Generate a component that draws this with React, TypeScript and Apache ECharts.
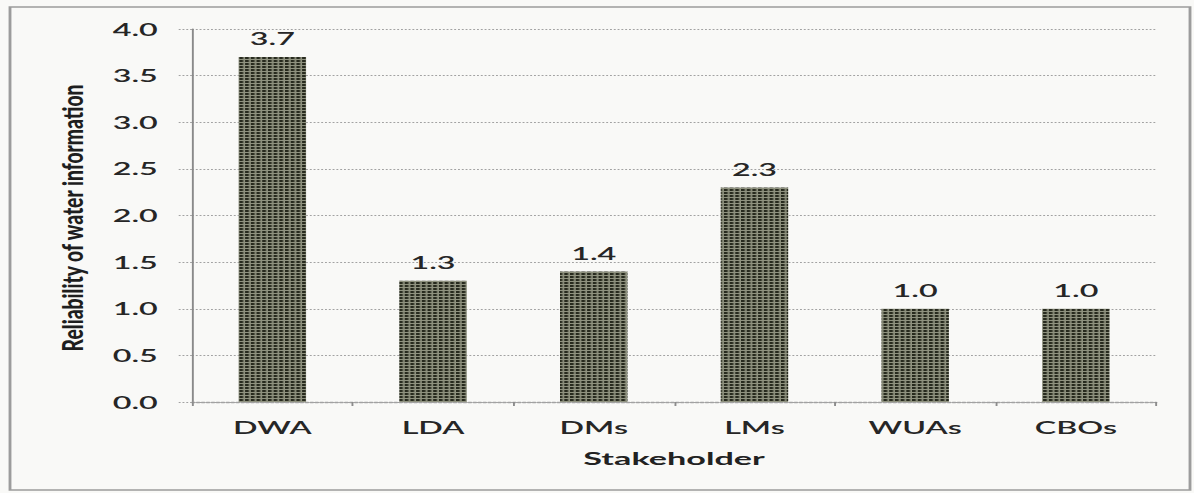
import React, { useEffect, useRef } from "react";
import * as echarts from "echarts";

// Reliability rating per stakeholder group
const categories = ["DWA", "LDA", "DMs", "LMs", "WUAs", "CBOs"];
const reliability = [3.7, 1.3, 1.4, 2.3, 1.0, 1.0];
const yAxisTitle = "Reliability of water information";
const xAxisTitle = "Stakeholder";

// The figure is laid out narrow and widened horizontally as a whole.
const STRETCH = 1.9;
const FULL_W = 1194;
const FULL_H = 493;
const W = FULL_W / STRETCH;

function makeHatch(): HTMLCanvasElement {
  const c = document.createElement("canvas");
  c.width = 3;
  c.height = 3;
  const ctx = c.getContext("2d")!;
  ctx.fillStyle = "#8f927f";
  ctx.fillRect(0, 0, 3, 3);
  ctx.fillStyle = "#272a1e";
  ctx.fillRect(0, 0, 2, 2);
  return c;
}

export default function App() {
  const ref = useRef<HTMLDivElement>(null);

  useEffect(() => {
    if (!ref.current) return;
    const chart = echarts.init(ref.current, undefined, { renderer: "svg" });
    const font = "Lato, 'Open Sans', sans-serif";
    const gray = "#a2a2a2";
    const ink = "#262626";

    chart.setOption({
      animation: false,
      backgroundColor: "transparent",
      grid: {
        left: 192 / STRETCH,
        right: W - 1157 / STRETCH,
        top: 29,
        bottom: FULL_H - 402,
        containLabel: false,
      },
      xAxis: {
        type: "category",
        data: categories,
        name: xAxisTitle,
        nameLocation: "middle",
        nameGap: 47,
        nameTextStyle: { fontFamily: font, fontSize: 18, fontWeight: "bold", color: "#222" },
        axisLine: { lineStyle: { color: gray, type: "dotted", width: 1.3 } },
        axisTick: { show: true, length: 4, lineStyle: { color: "#8c8c8c" } },
        axisLabel: { fontFamily: font, fontSize: 17, fontWeight: 600, color: ink, margin: 17 },
      },
      yAxis: {
        type: "value",
        min: 0,
        max: 4,
        interval: 0.5,
        axisLine: { show: true, lineStyle: { color: "#8a8a8a", width: 1 } },
        axisTick: { show: true, length: 7, lineStyle: { color: gray, type: "dotted" } },
        axisLabel: {
          fontFamily: font,
          fontSize: 17,
          fontWeight: 600,
          color: ink,
          margin: 18,
          formatter: (v: number) => v.toFixed(1),
        },
        splitLine: { lineStyle: { color: gray, type: "dotted", width: 1 } },
      },
      series: [
        {
          type: "bar",
          data: reliability,
          barWidth: "42%",
          itemStyle: { color: { image: makeHatch(), repeat: "repeat" } },
          label: {
            show: true,
            position: "top",
            distance: 10,
            fontFamily: font,
            fontSize: 17,
            fontWeight: 600,
            color: ink,
            formatter: (p: any) => Number(p.value).toFixed(1),
          },
        },
      ],
      graphic: [
        {
          type: "rect",
          silent: true,
          shape: { x: 10 / STRETCH, y: 7, width: (1190 - 10) / STRETCH, height: 483 },
          style: { fill: "none", stroke: "#9c9c9c", lineWidth: 1.5 },
        },
        {
          type: "text",
          x: 73 / STRETCH,
          y: 218,
          rotation: Math.PI / 2,
          scaleX: 1.33,
          style: {
            text: yAxisTitle,
            fontFamily: font,
            fontSize: 14.5,
            fontWeight: 900,
            fill: "#1e1e1e",
            align: "center",
            verticalAlign: "middle",
          },
        },
      ],
    });

    return () => chart.dispose();
  }, []);

  return (
    <div
      style={{
        position: "fixed",
        left: 0,
        top: 0,
        width: FULL_W,
        height: FULL_H,
        overflow: "hidden",
        background: "#f9f9f7",
      }}
    >
      <div
        ref={ref}
        style={{
          position: "absolute",
          left: 0,
          top: 0,
          width: W,
          height: FULL_H,
          transform: `scaleX(${STRETCH})`,
          transformOrigin: "0 0",
        }}
      />
    </div>
  );
}
